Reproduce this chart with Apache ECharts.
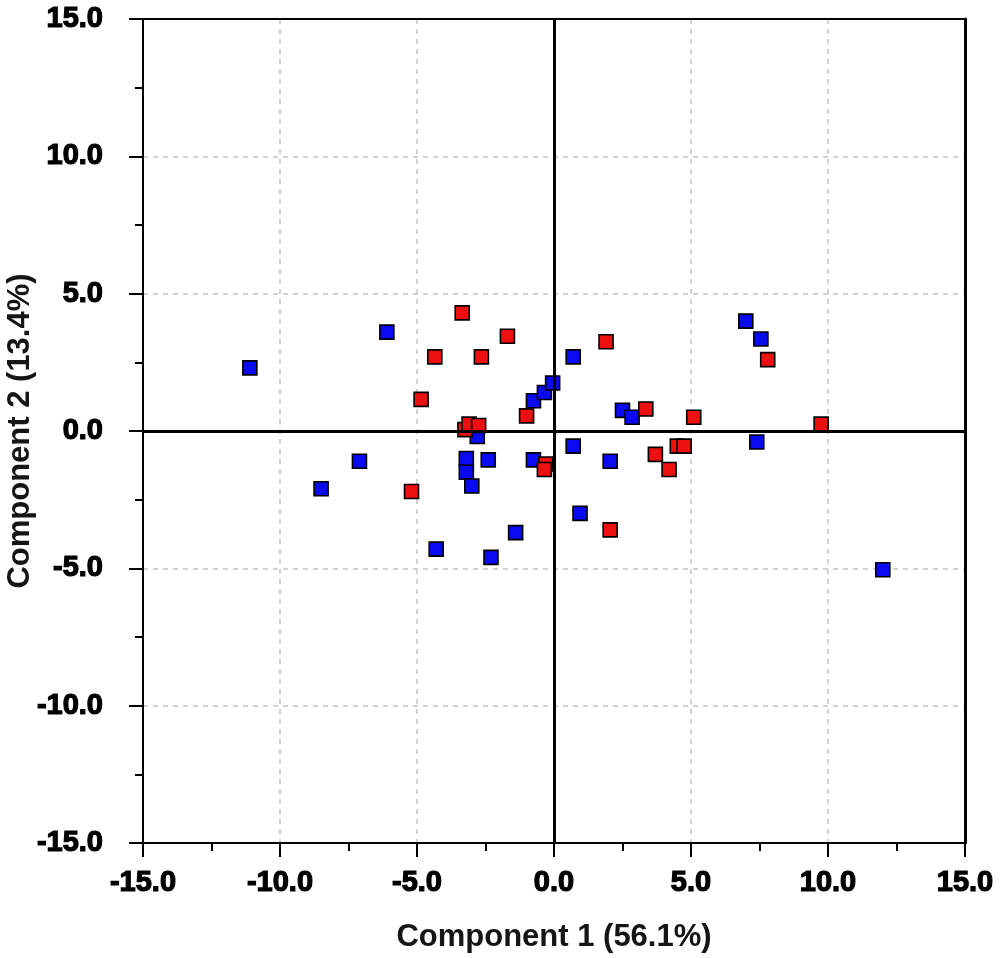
<!DOCTYPE html>
<html>
<head>
<meta charset="utf-8">
<title>PCA score plot</title>
<script src="https://cdn.jsdelivr.net/npm/echarts@6/dist/echarts.min.js"></script>
<style>
	html, body { margin: 0; padding: 0; background: #fff; }
	#container { width: 1000px; height: 958px; }
</style>
</head>
<body>
<div id="container"></div>
<script>
// scores: [component 1, component 2]
var bluePoints = [
	[-11.1, 2.3], [-6.1, 3.6], [-7.1, -1.1], [-8.5, -2.1], [-4.3, -4.3],
	[-2.3, -4.6], [-1.4, -3.7], [-3.2, -1.0], [-3.2, -1.5], [-3.0, -2.0],
	[-2.4, -1.05], [-2.8, -0.2], [-0.75, -1.05], [-0.75, 1.1], [-0.35, 1.4],
	[-0.05, 1.75], [0.7, 2.7], [2.5, 0.75], [2.85, 0.5], [0.7, -0.55],
	[2.05, -1.1], [7.4, -0.4], [0.95, -3.0], [12.0, -5.05], [7.0, 4.0],
	[7.55, 3.35]
];
var redPoints = [
	[-3.35, 4.3], [-1.7, 3.45], [-4.35, 2.7], [-2.65, 2.7], [-4.85, 1.15],
	[-5.2, -2.2], [-3.25, 0.05], [-3.1, 0.25], [-2.75, 0.2], [-1.0, 0.55],
	[-0.3, -1.2], [-0.35, -1.4], [1.9, 3.25], [7.8, 2.6], [3.35, 0.8],
	[5.1, 0.5], [9.75, 0.25], [4.5, -0.55], [4.75, -0.55], [3.7, -0.85],
	[4.2, -1.4], [2.05, -3.6]
];
var axisMin = -15;
var axisMax = 15;
var axisStep = 5;
var xName = 'Component 1 (56.1%)';
var yName = 'Component 2 (13.4%)';

var myChart = echarts.init(document.getElementById('container'));

function makeAxis(name, gap, labelMargin) {
	return {
		type : 'value',
		min : axisMin,
		max : axisMax,
		interval : axisStep,
		name : name,
		nameLocation : 'middle',
		nameGap : gap,
		nameMoveOverlap : false,
		nameTextStyle : {
			fontFamily : 'Liberation Sans',
			fontWeight : 'bold',
			fontSize : 31,
			color : '#151515'
		},
		axisLine : {
			onZero : false,
			lineStyle : { color : '#000', width : 2 }
		},
		axisTick : {
			inside : false,
			length : 14,
			lineStyle : { color : '#000', width : 2 }
		},
		minorTick : {
			show : true,
			splitNumber : 2,
			length : 8,
			lineStyle : { color : '#000', width : 2 }
		},
		axisLabel : {
			margin : labelMargin,
			fontFamily : 'Liberation Sans',
			fontWeight : 'bold',
			fontSize : 29,
			color : '#000',
			textBorderColor : '#000',
			textBorderWidth : 1.2,
			formatter : function(v) { return v.toFixed(1); }
		},
		splitLine : {
			show : true,
			showMinLine : false,
			showMaxLine : false,
			lineStyle : { color : '#c4c4c4', type : [5, 5], width : 1.5 }
		}
	};
}

// frame edges on the top and right, no ticks or labels
function makeEdge(pos, w) {
	return {
		type : 'value',
		position : pos,
		min : axisMin,
		max : axisMax,
		axisLine : { show : true, onZero : false, lineStyle : { color : '#000', width : w } },
		axisTick : { show : false },
		axisLabel : { show : false },
		splitLine : { show : false }
	};
}

var squareStyle = function(fill) {
	return { color : fill, borderColor : '#000', borderWidth : 1.6, opacity : 1 };
};

var option = {
	animation : false,
	grid : {
		left : 143,
		top : 19,
		right : 35,
		bottom : 115,
		outerBoundsMode : 'none',
		containLabel : false
	},
	xAxis : [ makeAxis(xName, 79, 25), makeEdge('top', 2) ],
	yAxis : [ makeAxis(yName, 107, 40), makeEdge('right', 3) ],
	series : [ {
		name : 'zero',
		type : 'scatter',
		data : [],
		silent : true,
		markLine : {
			silent : true,
			symbol : 'none',
			label : { show : false },
			lineStyle : { color : '#000', width : 3, type : 'solid' },
			data : [ { xAxis : 0 }, { yAxis : 0 } ]
		}
	}, {
		name : 'blue',
		type : 'scatter',
		symbol : 'rect',
		symbolSize : 14,
		itemStyle : squareStyle('#0a0af0'),
		data : bluePoints
	}, {
		name : 'red',
		type : 'scatter',
		symbol : 'rect',
		symbolSize : 14,
		itemStyle : squareStyle('#ee1010'),
		data : redPoints
	} ]
};

myChart.setOption(option, true);
</script>
</body>
</html>
